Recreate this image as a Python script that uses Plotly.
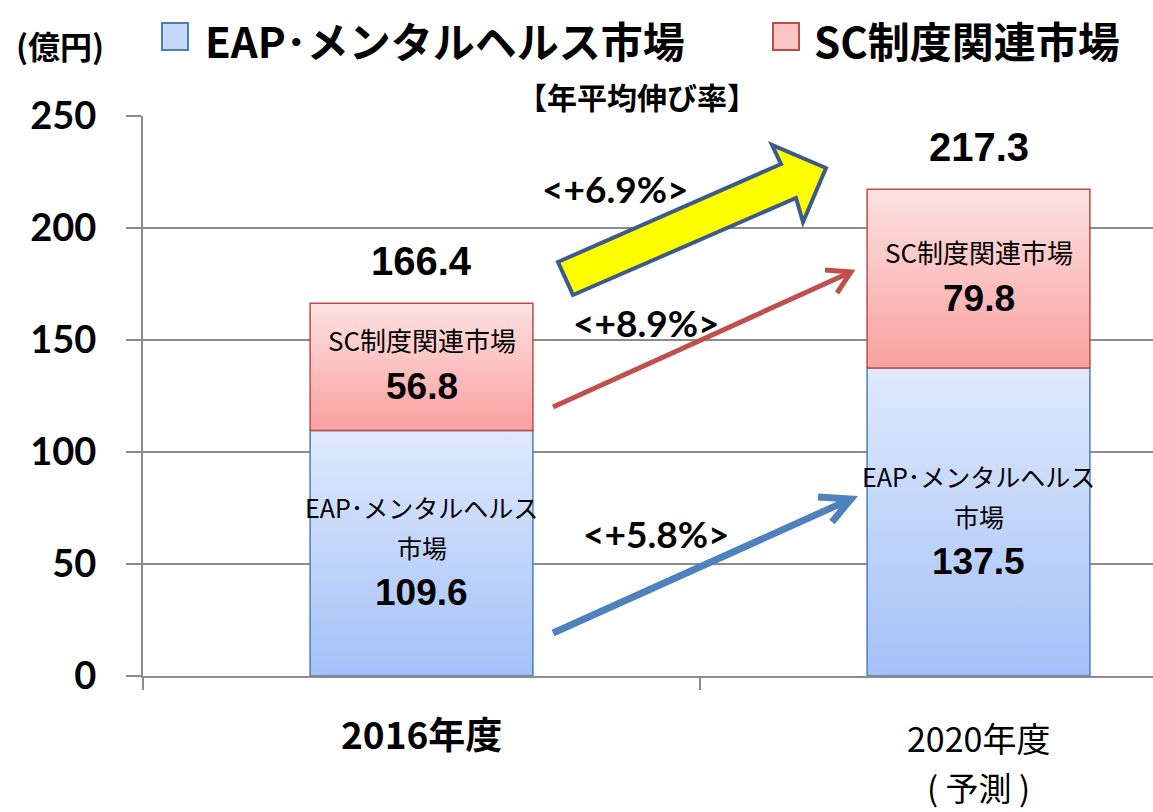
import plotly.graph_objects as go

# データ (億円)
years = ["2016年度", "2020年度"]
eap = [109.6, 137.5]
sc = [56.8, 79.8]
series_names = ["EAP･メンタルヘルス市場", "SC制度関連市場"]
growth_labels = ["<+6.9%>", "<+8.9%>", "<+5.8%>"]
y_ticks = [0, 50, 100, 150, 200, 250]

JP = "Noto Sans CJK JP"
NUM = "Liberation Sans, Arial"
CAL = "Lato, Open Sans"

BLUE_GRAD = [[0, "#a4c1f8"], [1, "#dfe9fc"]]
RED_GRAD = [[0, "#f9a09f"], [1, "#fde2e2"]]
BLUE_LINE = "#4a7ebb"
RED_LINE = "#be4b48"
GRID = "#8c8c8c"

W, H = 1153, 812
L, R, T, B = 143, 0, 116, 136
X_RANGE = [-0.5, -0.5 + (W - L - R) / 557]
BAR_W = 0.4


def px_x(px):
    """画素 -> paper x"""
    return (px - L) / (W - L - R)


def px_y(py):
    return (H - B - py) / (H - T - B)


def dx(px):
    """画素 -> データ x"""
    return X_RANGE[0] + (px - L) / 557


def dy(py):
    return (H - B - py) / (H - T - B) * 250


def label(px, py, text, size, family=JP, xanchor="center"):
    fig.add_annotation(xref="paper", yref="paper", x=px_x(px), y=px_y(py),
                       xanchor=xanchor, yanchor="middle", text=text, showarrow=False,
                       font=dict(family=family, size=size, color="black"))


fig = go.Figure()

# 積み上げ棒 (グラデーション塗り)
for i in range(len(years)):
    segs = [(0, eap[i], BLUE_GRAD, BLUE_LINE), (eap[i], eap[i] + sc[i], RED_GRAD, RED_LINE)]
    for y0, y1, grad, line in segs:
        x0, x1 = i - BAR_W / 2, i + BAR_W / 2
        fig.add_trace(go.Scatter(
            x=[x0, x1, x1, x0, x0], y=[y0, y0, y1, y1, y0],
            mode="lines", fill="toself",
            fillgradient=dict(type="vertical", colorscale=grad),
            line=dict(color=line, width=1.5),
            hoverinfo="skip", showlegend=False,
        ))

# 棒内ラベル
for i in range(len(years)):
    mid_b = eap[i] / 2
    mid_r = eap[i] + sc[i] / 2
    total = eap[i] + sc[i]
    common = dict(x=i, showarrow=False, xanchor="center", yanchor="middle")
    fig.add_annotation(y=mid_b, yshift=46, text="EAP･メンタルヘルス",
                       font=dict(family=JP, size=25, color="black"), **common)
    fig.add_annotation(y=mid_b, yshift=6, text="市場",
                       font=dict(family=JP, size=25, color="black"), **common)
    fig.add_annotation(y=mid_b, yshift=-39, text=f"{eap[i]:.1f}",
                       font=dict(family=NUM, size=37, color="black", weight=700), **common)
    fig.add_annotation(y=mid_r, yshift=27, text="SC制度関連市場",
                       font=dict(family=JP, size=26, color="black"), **common)
    fig.add_annotation(y=mid_r, yshift=-20, text=f"{sc[i]:.1f}",
                       font=dict(family=NUM, size=37, color="black", weight=700), **common)
    fig.add_annotation(x=i, y=total, yanchor="bottom", xanchor="center", yshift=18,
                       text=f"<b>{total:.1f}</b>", showarrow=False,
                       font=dict(family=NUM, size=40, color="black"))

# 伸び率の矢印
shapes = []
yellow = [(558, 262), (781, 164), (772, 145), (826, 168), (803, 222), (796, 198), (573, 295)]
path = "M " + " L ".join(f"{dx(a)},{dy(b)}" for a, b in yellow) + " Z"
shapes.append(dict(type="path", path=path, xref="x", yref="y",
                   fillcolor="#ffff00", line=dict(color="#3b5b8c", width=4)))


def line_arrow(tail, tip, b1, b2, color, width):
    p = (f"M {dx(tail[0])},{dy(tail[1])} L {dx(tip[0])},{dy(tip[1])} "
         f"M {dx(b1[0])},{dy(b1[1])} L {dx(tip[0])},{dy(tip[1])} L {dx(b2[0])},{dy(b2[1])}")
    return dict(type="path", path=p, xref="x", yref="y", line=dict(color=color, width=width))


shapes.append(line_arrow((553, 407), (851, 272), (825, 270), (837, 293), "#c0504d", 5))
shapes.append(line_arrow((553, 633), (851, 499), (818, 497), (832, 522), "#4f81bd", 7))

# 凡例 (手描き)
for sx, fill, line in [(162, "#c6d8fa", BLUE_LINE), (773, "#fbc4c4", RED_LINE)]:
    shapes.append(dict(type="rect", xref="paper", yref="paper",
                       x0=px_x(sx), x1=px_x(sx + 26), y0=px_y(50), y1=px_y(23),
                       fillcolor=fill, line=dict(color=line, width=2)))
fig.update_layout(shapes=shapes)

label(203, 39, f"<b>{series_names[0]}</b>", 42, xanchor="left")
label(812, 39, f"<b>{series_names[1]}</b>", 42, xanchor="left")
label(60, 45, "<b>(億円)</b>", 32)
label(637, 96, "<b>【年平均伸び率】</b>", 30)

for txt, (cx, cy) in zip(growth_labels, [(615, 188), (646, 322), (656, 533)]):
    label(cx, cy, f"<b>{txt}</b>", 37, family=CAL)

# X 軸ラベル
label(421, 733, f"<b>{years[0]}</b>", 37)
label(978, 737, years[1], 34)
label(978, 787, "( 予測 )", 33)

fig.update_xaxes(
    range=X_RANGE, tickvals=[0, 1], ticktext=["", ""], ticks="",
    showline=True, linecolor=GRID, linewidth=2, showgrid=False, zeroline=False,
    minor=dict(tickvals=[-0.5, 0.5], ticks="outside", ticklen=12, tickcolor=GRID, tickwidth=1.5),
)
fig.update_yaxes(
    range=[0, 250], tickvals=y_ticks, ticks="outside", ticklen=15, tickcolor=GRID, tickwidth=2,
    tickfont=dict(family=CAL, size=38, color="black", weight=700), ticklabelstandoff=22,
    showline=True, linecolor=GRID, linewidth=2, showgrid=True, gridcolor=GRID, gridwidth=2,
    zeroline=False,
)
fig.update_layout(
    width=W, height=H, margin=dict(l=L, r=R, t=T, b=B, pad=0, autoexpand=False),
    plot_bgcolor="white", paper_bgcolor="white", showlegend=False,
)

fig.write_html("out.html", config={"displayModeBar": False},
               post_script="document.body.style.margin='0';")
